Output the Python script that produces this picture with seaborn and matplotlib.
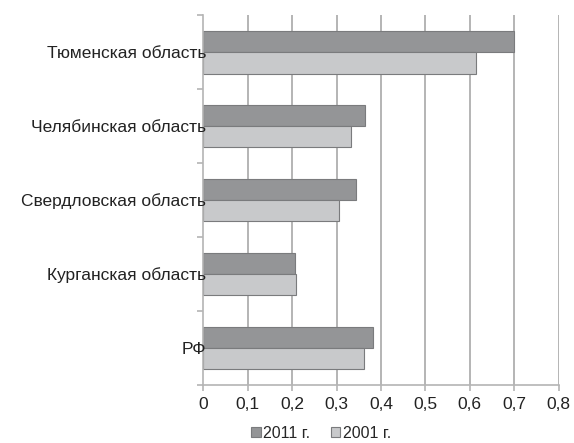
import matplotlib
matplotlib.use("Agg")
import matplotlib.pyplot as plt
import seaborn as sns
import pandas as pd
from matplotlib.ticker import FixedLocator, FuncFormatter

sns.set_theme(style="white")
plt.rcParams['font.family'] = ['Liberation Sans', 'DejaVu Sans']

# данные
regions = ['Тюменская область', 'Челябинская область', 'Свердловская область',
           'Курганская область', 'РФ']
years = ['2011 г.', '2001 г.']
vals_2011 = [0.70, 0.365, 0.343, 0.207, 0.382]
vals_2001 = [0.614, 0.332, 0.306, 0.208, 0.362]
xticks = [0, 0.1, 0.2, 0.3, 0.4, 0.5, 0.6, 0.7, 0.8]

df = pd.DataFrame({
    'Регион': regions * 2,
    'Год': [years[0]] * len(regions) + [years[1]] * len(regions),
    'Значение': vals_2011 + vals_2001,
})

fig = plt.figure(figsize=(5.74, 4.43), dpi=100)
ax = fig.add_axes([0.3545, 0.131, 0.6185, 0.835])

# вертикальная сетка под столбиками, подписи осей поверх
for xv in xticks[1:]:
    ax.axvline(xv, color='#b4b4b4', linewidth=1.4, zorder=0.5)

sns.barplot(data=df, y='Регион', x='Значение', hue='Год', order=regions,
            hue_order=years, palette=['#939598', '#c8c9cb'], width=0.58,
            edgecolor='#7a7b7d', linewidth=0.8, ax=ax, legend=True)
ax.set_axisbelow(False)

ax.set_xlim(0, 0.8)
ax.set_ylim(len(regions) - 0.5, -0.5)
ax.set_xticks(xticks)
ax.xaxis.set_major_formatter(FuncFormatter(lambda v, p: '0' if v == 0 else f'{v:.1f}'.replace('.', ',')))
ax.yaxis.set_minor_locator(FixedLocator([i - 0.5 for i in range(len(regions) + 1)]))
ax.tick_params(axis='y', which='major', length=0, pad=-2, labelsize=12.5, labelcolor='#222222')
ax.tick_params(axis='y', which='minor', left=True, length=4, width=1.2, color='#b4b4b4')
ax.tick_params(axis='x', which='major', bottom=True, length=4, width=1.2, color='#b4b4b4',
               labelsize=12.5, labelcolor='#222222', pad=5)

ax.set_xlabel('')
ax.set_ylabel('')
for s in ['top', 'right']:
    ax.spines[s].set_visible(False)
for s in ['left', 'bottom']:
    ax.spines[s].set_color('#b4b4b4')
    ax.spines[s].set_linewidth(1.2)

ax.legend(loc='center', bbox_to_anchor=(321 / 574, 1 - 433 / 443), bbox_transform=fig.transFigure,
          ncol=2, frameon=False, fontsize=11.5, handlelength=0.6, handleheight=0.6,
          handletextpad=0.15, columnspacing=1.3, borderpad=0)

fig.savefig('out.png', dpi=100)
